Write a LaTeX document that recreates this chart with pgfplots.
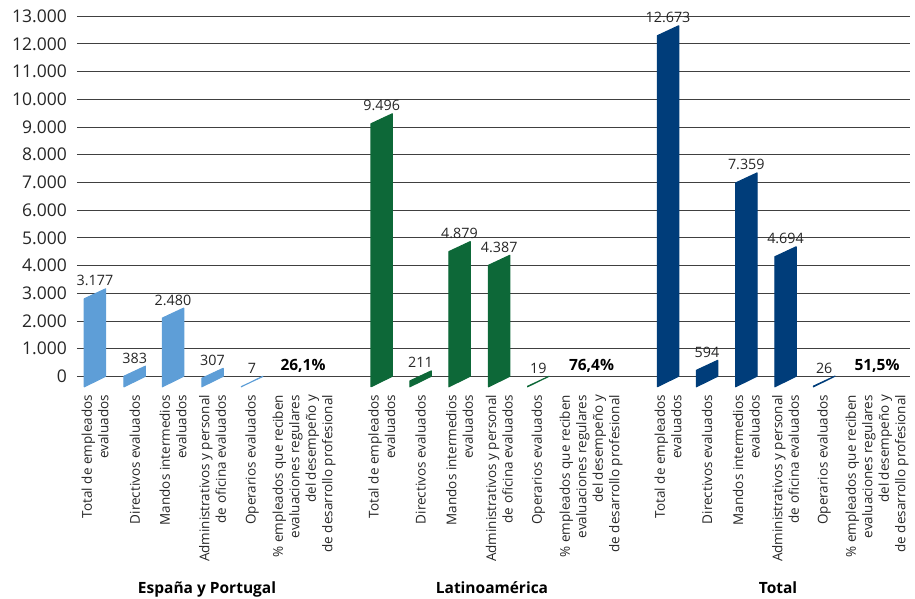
\documentclass[border=0pt]{standalone}
\usepackage{fontspec}
\setmainfont{Open Sans}
\usepackage{pgfplots}
\pgfplotsset{compat=1.18}
\usepackage{pgfplotstable}
\definecolor{esp}{HTML}{5E9ED7}
\definecolor{lat}{HTML}{0D6838}
\definecolor{tot}{HTML}{003D7A}
\definecolor{txt}{HTML}{262626}

\pgfplotstableread{
x v
95 3177
134.7 383
173 2480
212.5 307
252 7
}\esptab
\pgfplotstableread{
x v
381.7 9496
420.5 211
459.5 4879
499.2 4387
538.3 19
}\lattab
\pgfplotstableread{
x v
668 12673
707 594
746.3 7359
785.5 4694
824.2 26
}\tottab

% parallelogram bar: data point = (bar centre, value)
\pgfdeclareplotmark{para}{%
  \pgfmathsetlengthmacro\barh{\val*0.027692}%
  \pgfpathmoveto{\pgfqpoint{10.7pt}{-0.5pt}}%
  \pgfpathlineto{\pgfqpoint{-10.7pt}{-10.5pt}}%
  \pgfpathlineto{\pgfpoint{-10.7pt}{-\barh-10.5pt}}%
  \pgfpathlineto{\pgfpoint{10.7pt}{-\barh}}%
  \pgfpathclose
  \pgfusepathqfillstroke
}

\pgfplotsset{
  parabar/.style={scatter, only marks, mark=para,
    visualization depends on={rawy \as \val},
    scatter/@pre marker code/.code={\scope[fill=#1, draw=#1, line width=1.1pt, line join=round]},
    scatter/@post marker code/.code={\endscope}},
  vlabels/.style={draw=none, mark=none, nodes near coords,
    point meta=y,
    every node near coord/.append style={font=\fontsize{14.3}{16}\selectfont, text=txt, anchor=base, yshift=2.5pt, inner sep=0pt}},
}

\begin{document}
\begin{tikzpicture}
\useasboundingbox (-77pt,-222.7pt) rectangle (838pt,376.3pt);
\begin{axis}[
  at={(0pt,0pt)}, anchor=south west,
  x=1pt, y=0.027692pt,
  xmin=77, xmax=910, ymin=0, ymax=13000,
  enlargelimits=false, clip=false,
  scaled y ticks=false, scaled x ticks=false,
  axis line style={draw=none},
  major tick length=0pt,
  ymajorgrids, grid style={black!75, line width=0.8pt},
  ytick={0,1000,...,13000},
  yticklabels={0,1.000,2.000,3.000,4.000,5.000,6.000,7.000,8.000,9.000,10.000,11.000,12.000,13.000},
  yticklabel style={font=\fontsize{17.5}{20}\selectfont, text=txt, inner sep=0pt, xshift=-10pt},
  xtick={95,134.7,173,212.5,252,304,381.7,420.5,459.5,499.2,538.3,591,668,707,746.3,785.5,824.2,877},
  xticklabels={{Total de empleados\\evaluados},{Directivos evaluados},{Mandos intermedios\\evaluados},{Administrativos y personal\\de oficina evaluados},{Operarios evaluados},{\% empleados que reciben\\evaluaciones regulares\\del desempeño y\\de desarrollo profesional},
  {Total de empleados\\evaluados},{Directivos evaluados},{Mandos intermedios\\evaluados},{Administrativos y personal\\de oficina evaluados},{Operarios evaluados},{\% empleados que reciben\\evaluaciones regulares\\del desempeño y\\de desarrollo profesional},
  {Total de empleados\\evaluados},{Directivos evaluados},{Mandos intermedios\\evaluados},{Administrativos y personal\\de oficina evaluados},{Operarios evaluados},{\% empleados que reciben\\evaluaciones regulares\\del desempeño y\\de desarrollo profesional}},
  xticklabel style={font=\fontsize{13.5}{16.5}\selectfont, text=txt, rotate=90, anchor=east, align=right, inner sep=0pt, xshift=-18.5pt},
  /pgf/number format/.cd, 1000 sep={.}, assume math mode=true,
]
\addplot[parabar=esp] table[x=x, y=v] {\esptab};
\addplot[parabar=lat] table[x=x, y=v] {\lattab};
\addplot[parabar=tot] table[x=x, y=v] {\tottab};
\addplot[vlabels] table[x=x, y=v] {\esptab};
\addplot[vlabels] table[x=x, y=v] {\lattab};
\addplot[vlabels] table[x=x, y=v] {\tottab};

\node[font=\bfseries\fontsize{15.5}{18}\selectfont, text=black, anchor=base] at (axis cs:303,202) {26,1\%};
\node[font=\bfseries\fontsize{15.5}{18}\selectfont, text=black, anchor=base] at (axis cs:591.5,202) {76,4\%};
\node[font=\bfseries\fontsize{15.5}{18}\selectfont, text=black, anchor=base] at (axis cs:877,202) {51,5\%};

\node[font=\bfseries\fontsize{15.5}{18}\selectfont, text=black, anchor=base] at (axis cs:207,-7836) {España y Portugal};
\node[font=\bfseries\fontsize{15.5}{18}\selectfont, text=black, anchor=base] at (axis cs:492,-7836) {Latinoamérica};
\node[font=\bfseries\fontsize{15.5}{18}\selectfont, text=black, anchor=base] at (axis cs:778,-7836) {Total};
\end{axis}
\end{tikzpicture}
\end{document}
